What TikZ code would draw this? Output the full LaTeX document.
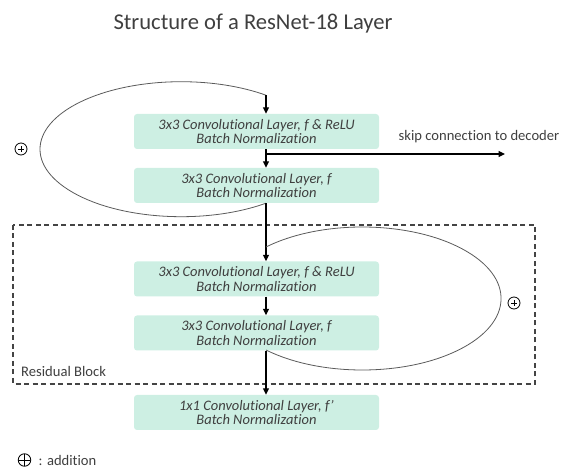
\documentclass[tikz,border=0pt]{standalone}
\usepackage{fontspec}
\setmainfont{Carlito}[Ligatures=NoCommon]
\usetikzlibrary{arrows.meta}
\definecolor{boxfill}{HTML}{CDEFE3}
\definecolor{textgray}{HTML}{3F3F3F}
\definecolor{loopgray}{HTML}{5A5A5A}
\definecolor{framegray}{HTML}{444444}

\begin{document}
\begin{tikzpicture}[x=1pt,y=1pt,
  layerbox/.style={fill=boxfill, rounded corners=3pt, minimum width=245pt,
    minimum height=35pt, inner sep=0pt, align=center,
    font=\fontsize{14.5}{14.8}\selectfont\itshape, text=textgray},
  flow/.style={line width=1.2pt, -{Triangle[length=6.5pt,width=6pt]}},
  loopline/.style={draw=loopgray, line width=0.8pt},
  plainlabel/.style={font=\fontsize{14.6}{16}\selectfont, text=textgray, inner sep=0pt},
  addsym/.style={circle, draw=black, line width=0.8pt, minimum size=12pt, inner sep=0pt,
    path picture={\draw[line width=0.7pt]
      ([xshift=-3pt]path picture bounding box.center) -- ([xshift=3pt]path picture bounding box.center)
      ([yshift=-3pt]path picture bounding box.center) -- ([yshift=3pt]path picture bounding box.center);}},
  legendsym/.style={circle, draw=black, line width=0.8pt, minimum size=12.5pt, inner sep=0pt,
    path picture={\draw[line width=0.8pt]
      (path picture bounding box.north) -- (path picture bounding box.south)
      (path picture bounding box.west) -- (path picture bounding box.east);}}]

\useasboundingbox (0,0) rectangle (563,-470);

% title
\node[font=\fontsize{22.6}{26}\selectfont, text=textgray] (title) at (253,-24) {Structure of a ResNet-18 Layer};

% layer boxes
\node[layerbox] (b1) at (256.5,-131.5) {3x3 Convolutional Layer, \textit{f} \& ReLU\\Batch Normalization};
\node[layerbox] (b2) at (256.5,-185.5) {3x3 Convolutional Layer, \textit{f}\\Batch Normalization};
\node[layerbox] (b3) at (256.5,-279) {3x3 Convolutional Layer, \textit{f} \& ReLU\\Batch Normalization};
\node[layerbox] (b4) at (256.5,-333) {3x3 Convolutional Layer, \textit{f}\\Batch Normalization};
\node[layerbox] (b5) at (256.5,-412.5) {1x1 Convolutional Layer, \textit{f’}\\Batch Normalization};

% main data path
\coordinate (spine) at (266,0);
\coordinate (skipend) at (505,-154);

% residual loop around the first pair
\draw[loopline] (b2.south -| spine) arc[start angle=-53.13, end angle=-306.87,
  x radius=141.25, y radius=67.5] coordinate (loopAtop);
\draw[flow] (loopAtop) -- (loopAtop |- b1.north);
\draw[flow] (b1.south -| spine) -- (b2.north -| spine);
\draw[flow] (skipend -| spine) -- (skipend);
\node[plainlabel] (skiplabel) at (479,-137) {skip connection to decoder};
\node[addsym] (addA) at (21,-149) {};

% residual block
\draw[framegray, line width=1.1pt, dash pattern=on 5pt off 3.5pt] (13,-225) rectangle (535,-384);
\node[plainlabel, anchor=west] (rblabel) at (21,-371) {Residual Block};
\draw[flow] (b2.south -| spine) -- (b3.north -| spine);
\coordinate (loopBtop) at (266,-247);
\draw[loopline] (loopBtop) arc[start angle=133.92, end angle=-133.92,
  x radius=138.8, y radius=71.5];
\draw[flow] (b3.south -| spine) -- (b4.north -| spine);
\node[addsym] (addB) at (514,-303) {};

\draw[flow] (b4.south -| spine) -- (b5.north -| spine);

% legend
\node[legendsym] (legendsym) at (24.5,-460) {};
\node[plainlabel, anchor=west] (legendtext) at (38.5,-460) {: addition};
\end{tikzpicture}
\end{document}
